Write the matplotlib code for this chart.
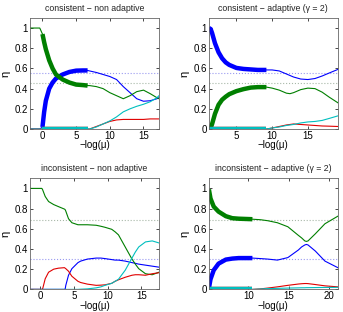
"""Regularisation paths of eta for the consistent / inconsistent cases."""

import matplotlib

matplotlib.use("Agg")
import matplotlib.pyplot as plt
import numpy as np

# --- consistent, non adaptive -------------------------------------------
cna_x = [-1.85, -0.4, 0, 0.25, 0.5, 1, 1.5, 2, 3, 4, 5, 6, 6.7, 7, 8, 9,
         10, 11, 12, 13, 14, 15, 16, 17, 17.3]
cna_blue = [0, 0, 0.02, 0.17, 0.28, 0.40, 0.46, 0.50, 0.54, 0.565, 0.578,
            0.58, 0.58, 0.575, 0.56, 0.54, 0.52, 0.49, 0.42, 0.36, 0.30,
            0.275, 0.28, 0.30, 0.31]
cna_green = [1, 1, 0.94, 0.86, 0.79, 0.68, 0.60, 0.54, 0.49, 0.46, 0.44,
             0.435, 0.43, 0.43, 0.42, 0.40, 0.36, 0.33, 0.30, 0.33, 0.37,
             0.385, 0.35, 0.31, 0.30]
cna_red = [0, 0, 0, 0, 0, 0, 0, 0, 0, 0, 0, 0, 0, 0, 0.025, 0.05, 0.075,
           0.09, 0.095, 0.095, 0.095, 0.095, 0.10, 0.10, 0.10]
cna_cyan = [0, 0, 0, 0, 0, 0, 0, 0, 0, 0, 0, 0, 0, 0, 0.02, 0.05, 0.08,
            0.12, 0.17, 0.20, 0.225, 0.245, 0.27, 0.31, 0.33]

# --- consistent, adaptive (gamma = 2) -----------------------------------
ca_x = [1.15, 1.4, 1.6, 2, 2.5, 3, 3.5, 4, 5, 6, 7, 8, 9.2, 10, 11, 12,
        12.5, 13, 14, 15, 16, 17, 18, 19.2]
ca_blue = [1.0, 0.99, 0.95, 0.85, 0.76, 0.70, 0.66, 0.635, 0.605, 0.595,
           0.59, 0.585, 0.585, 0.585, 0.575, 0.545, 0.53, 0.515, 0.495,
           0.49, 0.50, 0.525, 0.555, 0.59]
ca_green = [0.0, 0.01, 0.05, 0.15, 0.24, 0.29, 0.32, 0.345, 0.375, 0.395,
            0.41, 0.415, 0.415, 0.405, 0.385, 0.355, 0.35, 0.36, 0.39,
            0.405, 0.40, 0.365, 0.315, 0.26]
ca_red = [0, 0, 0, 0, 0, 0, 0, 0, 0, 0, 0, 0, 0, 0.01, 0.025, 0.04, 0.045,
          0.05, 0.045, 0.04, 0.035, 0.03, 0.028, 0.025]
ca_cyan = [0, 0, 0, 0, 0, 0, 0, 0, 0, 0, 0, 0, 0, 0.01, 0.02, 0.035, 0.04,
           0.045, 0.06, 0.07, 0.075, 0.085, 0.105, 0.13]

# --- inconsistent, non adaptive -----------------------------------------
ina_x = [-1.5, 0.25, 0.35, 0.75, 1.25, 2, 2.7, 3.6, 3.7, 3.8, 4.2, 4.7,
         5.6, 6, 7, 8.3, 9, 9.6, 10.6, 11.1, 11.6, 12.6, 13.6, 14.1, 14.6,
         15.6, 16.6, 17.6]
ina_blue = [0, 0, 0, 0, 0, 0, 0, 0, 0, 0.04, 0.14, 0.205, 0.265, 0.28,
            0.30, 0.31, 0.31, 0.305, 0.295, 0.29, 0.29, 0.28, 0.265, 0.258,
            0.25, 0.24, 0.23, 0.22]
ina_green = [1, 1, 0.99, 0.92, 0.87, 0.84, 0.82, 0.795, 0.79, 0.775, 0.70,
             0.66, 0.64, 0.64, 0.64, 0.635, 0.625, 0.615, 0.595, 0.57,
             0.54, 0.42, 0.30, 0.25, 0.205, 0.155, 0.145, 0.17]
ina_red = [0, 0, 0, 0.105, 0.17, 0.20, 0.21, 0.215, 0.21, 0.205, 0.18,
           0.13, 0.08, 0.068, 0.052, 0.04, 0.042, 0.045, 0.06, 0.08, 0.095,
           0.12, 0.14, 0.145, 0.145, 0.14, 0.155, 0.165]
ina_cyan = [0, 0, 0, 0, 0, 0, 0, 0, 0, 0, 0, 0, 0, 0.002, 0.005, 0.015,
            0.025, 0.04, 0.06, 0.08, 0.10, 0.19, 0.31, 0.37, 0.42, 0.47,
            0.48, 0.46]

# --- inconsistent, adaptive (gamma = 2) ---------------------------------
ia_x = [5.1, 5.3, 5.7, 6.3, 7.2, 8.0, 8.8, 10.5, 11.5, 12.4, 13.6, 14.9,
        16.2, 16.6, 17.0, 17.2, 17.4, 18.3, 19.5, 21.1]
ia_blue = [0.01, 0.10, 0.19, 0.255, 0.295, 0.305, 0.31, 0.31, 0.305, 0.30,
           0.29, 0.315, 0.39, 0.42, 0.44, 0.445, 0.44, 0.38, 0.28, 0.215]
ia_green = [0.99, 0.90, 0.82, 0.77, 0.725, 0.705, 0.70, 0.695, 0.69, 0.68,
            0.66, 0.62, 0.535, 0.51, 0.48, 0.475, 0.48, 0.55, 0.65, 0.725]
ia_red = [0, 0, 0, 0, 0, 0, 0, 0, 0.005, 0.013, 0.025, 0.04, 0.053, 0.056,
          0.058, 0.058, 0.057, 0.048, 0.035, 0.025]
ia_cyan = [0, 0, 0, 0, 0, 0, 0, 0, 0.004, 0.008, 0.01, 0.013, 0.015,
           0.016, 0.016, 0.017, 0.017, 0.018, 0.019, 0.02]

titles = [
    "consistent \u2212 non adaptive",
    "consistent \u2212 adaptive (\u03b3 = 2)",
    "inconsistent \u2212 non adaptive",
    "inconsistent \u2212 adaptive (\u03b3 = 2)",
]
# true eta values (dotted reference lines): (blue, green)
true_eta = [(0.55, 0.455), (0.55, 0.455), (0.305, 0.69), (0.305, 0.69)]
xlims = [(-1.85, 17.3), (1.15, 19.2), (-1.5, 17.6), (5.1, 21.1)]
thick_ranges = [(0, 6.7), (1.15, 9.2), None, (5.1, 10.5)]
yticks = [0, 0.2, 0.4, 0.6, 0.8, 1]
ytick_labels = ["0", "0.2", "0.4", "0.6", "0.8", "1"]

BLUE = "#0000ff"
GREEN = "#007f00"
RED = "#e00000"
CYAN = "#00bfbf"

plt.rcParams["font.family"] = ["Liberation Sans", "DejaVu Sans"]
plt.rcParams["font.size"] = 7


def draw_panel(ax, x, series, title, eta, xlim, thick):
    x = np.asarray(x)
    ax.axhline(eta[0], color="#9a9af0", lw=0.8, ls=":")
    ax.axhline(eta[1], color="#a8b8a8", lw=0.8, ls=":")
    for y, color in series:
        y = np.asarray(y)
        ax.plot(x, y, color=color, lw=0.8)
        if thick is not None:
            m = (x >= thick[0]) & (x <= thick[1])
            ax.plot(x[m], y[m], color=color, lw=3.2, solid_capstyle="butt")
    ax.set_xlim(*xlim)
    ax.set_ylim(0, 1.1)
    ax.set_yticks(yticks)
    ax.set_yticklabels(ytick_labels)
    ax.set_title(title, fontsize=6.3, pad=5, color="#222222")
    ax.set_xlabel("\u2212log(\u03bc)", labelpad=-0.5, fontsize=7)
    ax.set_ylabel("\u03b7", labelpad=3, fontsize=8)
    ax.tick_params(direction="in", length=2, width=0.5, pad=1.5,
                   top=True, right=True, labelsize=7)
    for sp in ax.spines.values():
        sp.set_color("#666666")
        sp.set_linewidth(0.6)


def main():
    fig = plt.figure(figsize=(3.43, 3.12), dpi=100)
    w, h = 0.376, 0.356
    boxes = [(0.0875, 0.5865), (0.609, 0.5865), (0.0875, 0.0725), (0.609, 0.0725)]
    data = [
        (cna_x, [(cna_blue, BLUE), (cna_green, GREEN), (cna_red, RED), (cna_cyan, CYAN)]),
        (ca_x, [(ca_blue, BLUE), (ca_green, GREEN), (ca_red, RED), (ca_cyan, CYAN)]),
        (ina_x, [(ina_blue, BLUE), (ina_green, GREEN), (ina_red, RED), (ina_cyan, CYAN)]),
        (ia_x, [(ia_blue, BLUE), (ia_green, GREEN), (ia_red, RED), (ia_cyan, CYAN)]),
    ]
    for i, (left, bottom) in enumerate(boxes):
        ax = fig.add_axes([left, bottom, w, h])
        x, series = data[i]
        draw_panel(ax, x, series, titles[i], true_eta[i], xlims[i], thick_ranges[i])
    fig.savefig("out.png", dpi=100)


if __name__ == "__main__":
    main()
